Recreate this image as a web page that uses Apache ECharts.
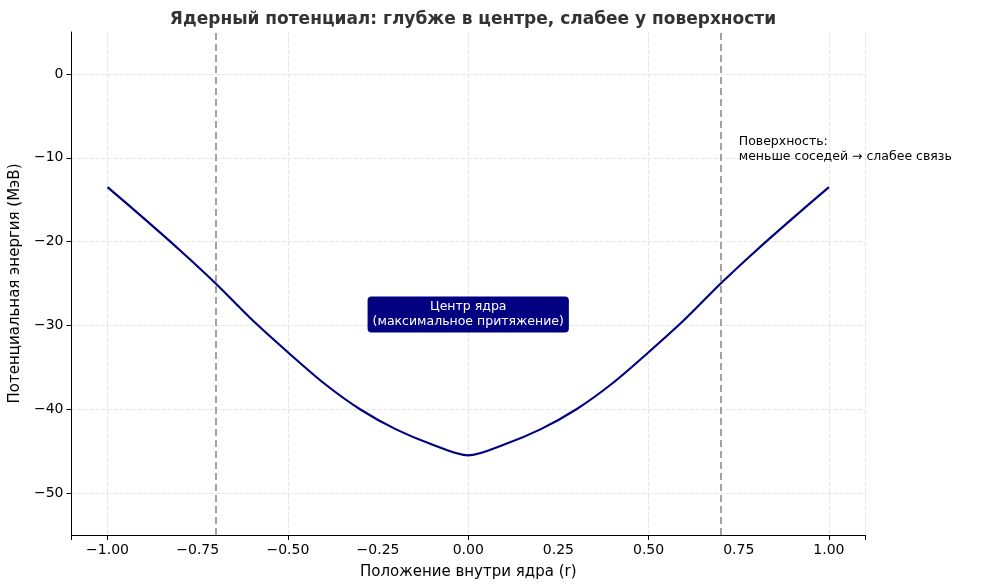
<!DOCTYPE html>
<html><head><meta charset="utf-8">
<script src="https://cdn.jsdelivr.net/npm/echarts@6/dist/echarts.min.js"></script>
<style>html,body{margin:0;padding:0;background:#fff}#c{width:983px;height:588px}</style>
</head><body><div id="c"></div>
<script>
const rValues = [-1.0,-0.9,-0.8,-0.7,-0.6,-0.5,-0.4,-0.3,-0.2,-0.1,0.0,0.1,0.2,0.3,0.4,0.5,0.6,0.7,0.8,0.9,1.0];
const potential = [-13.5,-17.2,-21.0,-25.0,-29.3,-33.2,-36.9,-40.0,-42.4,-44.2,-45.5,-44.2,-42.4,-40.0,-36.9,-33.2,-29.3,-25.0,-21.0,-17.2,-13.5];
const surfaceLines = [-0.7, 0.7];
const xTicks = [-1.0,-0.75,-0.5,-0.25,0,0.25,0.5,0.75,1.0];
const fmt = (v,d) => (v<0?'\u2212':'') + Math.abs(v).toFixed(d);
const chart = echarts.init(document.getElementById('c'));
chart.setOption({
  animation:false,
  title:{text:'Ядерный потенциал: глубже в центре, слабее у поверхности',left:468,textAlign:'center',top:6,
    textStyle:{fontSize:17,fontWeight:'bold',color:'#333',fontFamily:'DejaVu Sans'}},
  grid:{left:70,right:118,top:32,bottom:53},
  xAxis:{type:'value',min:-1.1,max:1.1,name:'Положение внутри ядра (r)',nameLocation:'middle',nameGap:30,
    nameTextStyle:{fontSize:15,color:'#000',fontFamily:'DejaVu Sans'},
    axisLine:{onZero:false,lineStyle:{color:'#000'}},axisTick:{show:true,length:5,lineStyle:{color:'#000'}},
    axisLabel:{fontSize:14,color:'#000',fontFamily:'DejaVu Sans',customValues:xTicks,formatter:v=>fmt(v,2),showMinLabel:true,showMaxLabel:true},
    splitLine:{show:true,lineStyle:{type:'dashed',color:'#e4e4e4'}},
    },
  yAxis:{type:'value',min:-55,max:5,interval:5,name:'Потенциальная энергия (МэВ)',nameLocation:'middle',nameGap:45,
    nameTextStyle:{fontSize:15,color:'#000',fontFamily:'DejaVu Sans'},
    axisLine:{show:true,onZero:false,lineStyle:{color:'#000'}},axisTick:{show:true,length:5,lineStyle:{color:'#000'},customValues:[-50,-40,-30,-20,-10,0]},
    axisLabel:{fontSize:14,color:'#000',fontFamily:'DejaVu Sans',customValues:[-50,-40,-30,-20,-10,0],formatter:v=>fmt(v,0)},
    splitLine:{show:true,lineStyle:{type:'dashed',color:'#e4e4e4'}}},
  series:[
    {type:'line',data:rValues.map((r,i)=>[r,potential[i]]),smooth:0.3,showSymbol:false,
     lineStyle:{color:'#000080',width:2.2},
     markLine:{silent:true,symbol:'none',label:{show:false},lineStyle:{type:[7,4],color:'#999',width:1.8},
       data:surfaceLines.map(x=>({xAxis:x}))},
     markPoint:{symbol:'circle',symbolSize:0,data:[
       {coord:[0,-28.7],label:{show:true,position:'inside',formatter:'Центр ядра\n(максимальное притяжение)',
         color:'#fff',fontSize:12.5,lineHeight:15,fontFamily:'DejaVu Sans',backgroundColor:'#000080',borderRadius:4,padding:[3,5]}},
       {coord:[0.75,-9],label:{show:true,position:'right',distance:0,formatter:'Поверхность:\nменьше соседей \u2192 слабее связь',
         color:'#000',fontSize:12.5,lineHeight:15,fontFamily:'DejaVu Sans',align:'left'}}
     ]}}
  ]
});
</script></body></html>
